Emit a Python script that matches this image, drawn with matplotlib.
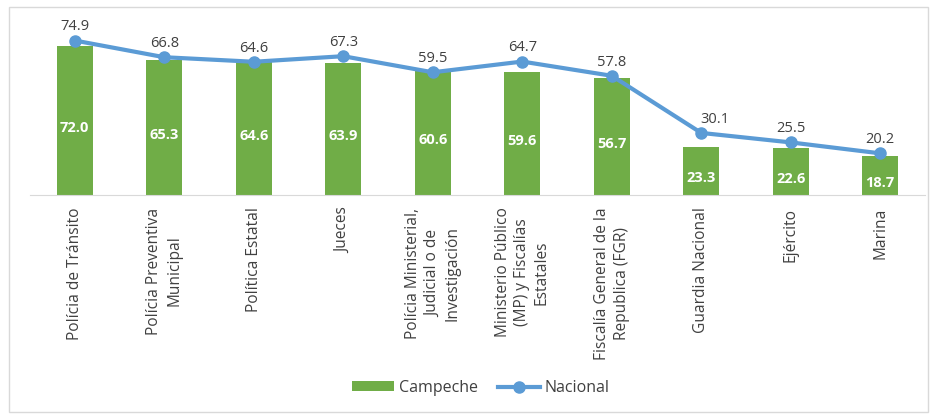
import matplotlib.pyplot as plt
from matplotlib.patches import Rectangle

categorias = ['Polícia de Tránsito', 'Polícia Preventiva\nMunicipal', 'Política Estatal', 'Jueces',
              'Polícia Ministerial,\nJudicial o de\nInvestigación',
              'Ministerio Público\n(MP) y Fiscalías\nEstatales',
              'Fiscalía General de la\nRepublica (FGR)', 'Guardia Nacional', 'Ejército', 'Marina']
campeche = [72.0, 65.3, 64.6, 63.9, 60.6, 59.6, 56.7, 23.3, 22.6, 18.7]
nacional = [74.9, 66.8, 64.6, 67.3, 59.5, 64.7, 57.8, 30.1, 25.5, 20.2]

plt.rcParams['font.family'] = ['Open Sans', 'DejaVu Sans']

fig = plt.figure(figsize=(9.33, 4.15), dpi=100)
ax = fig.add_axes([30 / 933, 1 - 195 / 415, 895 / 933, 165 / 415])

x = list(range(len(categorias)))
barras = ax.bar(x, campeche, width=0.4, color='#70AD47', label='Campeche', zorder=2)
linea, = ax.plot(x, nacional, color='#5B9BD5', linewidth=3, marker='o', markersize=8,
                 label='Nacional', zorder=3)

for xi, v in zip(x, campeche):
    ax.text(xi, v / 2 - 3.5, f'{v:.1f}', ha='center', va='center', color='white',
            fontsize=10.5, fontweight='bold', zorder=4)
for xi, v in zip(x, nacional):
    dx = 0.15 if xi == 7 else 0
    ax.text(xi + dx, v + 3, f'{v:.1f}', ha='center', va='bottom', color='#404040',
            fontsize=10.5, zorder=4)

ax.set_xlim(-0.5, len(categorias) - 0.5)
ax.set_ylim(0, 80)
ax.set_yticks([])
ax.set_xticks(x)
ax.set_xticklabels(categorias, rotation=90, ha='center', va='top', fontsize=11.2,
                   color='#404040', multialignment='center', linespacing=1.3)
ax.tick_params(axis='x', length=0, pad=9)
for s in ['top', 'right', 'left']:
    ax.spines[s].set_visible(False)
ax.spines['bottom'].set_color('#D9D9D9')

fig.legend([barras, linea], ['Campeche', 'Nacional'], loc='center',
           bbox_to_anchor=(481 / 933, 1 - 388 / 415), ncol=2, frameon=False,
           fontsize=11.5, labelcolor='#404040', handlelength=2.6, handleheight=0.6,
           handletextpad=0.3, columnspacing=1.3)

fig.patches.append(Rectangle((9 / 933, 3 / 415), 919 / 933, 405 / 415, transform=fig.transFigure,
                             fill=False, edgecolor='#D9D9D9', linewidth=1))

plt.savefig('out.png', dpi=100)
